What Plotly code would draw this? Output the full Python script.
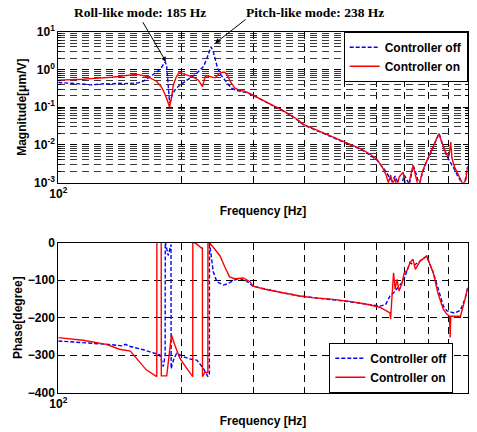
import plotly.graph_objects as go

# ---------------- data ----------------
mag_off_f = [100, 105, 110, 115, 120, 125, 130, 135, 140, 145, 150, 157, 162, 166, 170, 175, 178, 180,
             182.5, 184, 185.5, 187, 188, 190, 193, 196, 200, 205, 210, 216, 222, 226, 230, 233, 236,
             239, 242, 245, 250, 255, 260, 265, 272, 281, 290, 301, 310, 320, 335, 350, 365, 380, 397,
             420, 450, 480, 515, 550, 580, 600, 621, 635, 645, 655, 665, 675, 690, 700, 710, 720, 736,
             745, 755, 764, 775, 790, 808, 825, 840, 851, 860, 872, 887, 900, 915, 930, 945, 960, 974,
             985, 995, 1000]
mag_off = [0.45, 0.44, 0.43, 0.41, 0.39, 0.40, 0.42, 0.41, 0.43, 0.42, 0.43, 0.44, 0.50, 0.60, 0.70, 0.90,
           1.07, 1.3, 1.6, 1.2, 0.4, 0.13, 0.15, 0.22, 0.29, 0.35, 0.41, 0.50, 0.60, 0.72, 0.95, 1.18, 1.8,
           2.8, 4.0, 3.0, 1.7, 1.07, 0.70, 0.52, 0.40, 0.32, 0.28, 0.26, 0.24, 0.20, 0.17, 0.14, 0.11,
           0.085, 0.065, 0.05, 0.034, 0.026, 0.019, 0.014, 0.010, 0.0075, 0.0052, 0.004, 0.0025, 0.0018,
           0.0013, 0.0011, 0.0015, 0.001, 0.0009, 0.0016, 0.0012, 0.0009, 0.0028, 0.0020, 0.0012, 0.001,
           0.0018, 0.0032, 0.0054, 0.009, 0.014, 0.02, 0.014, 0.009, 0.0054, 0.004, 0.003, 0.0022,
           0.0015, 0.0012, 0.0009, 0.0011, 0.0022, 0.0027]

mag_on_f = [100, 105, 110, 115, 120, 125, 130, 135, 140, 145, 150, 154, 158, 162, 165, 170, 174, 178, 181,
            184, 187, 189, 191, 194, 197, 200, 204, 208, 214, 220, 223, 225, 227, 229, 233, 237, 241.5,
            245, 248, 252, 255, 259, 263, 267, 270, 278, 286, 294, 301, 310, 320, 335, 350, 365, 380, 397,
            420, 450, 480, 515, 550, 580, 600, 621, 632, 640, 648, 656, 664, 672, 680, 695, 705, 715, 725,
            736, 745, 755, 764, 775, 790, 808, 825, 840, 851, 862, 875, 890, 900, 909, 915, 930, 945, 960,
            974, 990, 1000]
mag_on = [0.52, 0.53, 0.52, 0.55, 0.57, 0.58, 0.60, 0.62, 0.65, 0.68, 0.72, 0.74, 0.72, 0.68, 0.65, 0.55,
          0.48, 0.36, 0.26, 0.17, 0.10, 0.18, 0.39, 0.62, 0.82, 0.80, 0.75, 0.71, 0.62, 0.52, 0.42, 0.35,
          0.50, 0.68, 0.66, 0.62, 0.60, 0.70, 0.79, 0.84, 0.84, 0.70, 0.48, 0.38, 0.32, 0.28, 0.26, 0.23,
          0.20, 0.17, 0.145, 0.11, 0.087, 0.066, 0.051, 0.035, 0.027, 0.019, 0.0145, 0.0102, 0.0078,
          0.0055, 0.0042, 0.0024, 0.0016, 0.0010, 0.0016, 0.0009, 0.0013, 0.0008, 0.0014, 0.0019, 0.0009,
          0.0008, 0.0015, 0.0029, 0.0016, 0.0009, 0.0010, 0.0020, 0.0033, 0.0055, 0.0095, 0.015, 0.020,
          0.013, 0.008, 0.0055, 0.005, 0.012, 0.0045, 0.0025, 0.0018, 0.0012, 0.0009, 0.0012, 0.0027]

ph_off_f = [100, 110, 120, 126, 135, 143, 146, 149, 155, 162, 167.5, 172, 177, 180.5, 182.4, 182.5, 185.5,
            188.5, 188.6, 191, 194.5, 202, 210, 218, 226, 232, 233.9, 234, 236.5, 239, 244, 253, 260, 268,
            278, 288, 299, 320, 350, 389, 420, 470, 520, 567, 610, 630, 646, 660, 675, 690, 700, 723, 740,
            765, 794, 824, 850, 872, 890, 906, 930, 960, 985, 1000]
ph_off = [-262, -265, -267, -268, -272, -275, -271, -276, -280, -286, -291, -295, -299, -330, -300, 2, -34,
          -5, -336, -314, -295, -304, -310, -313, -335, -357, -350, 2, -42, -77, -104, -113, -109, -100,
          -96, -102, -116, -124, -133, -142, -146, -151, -158, -164, -169, -165, -142, -133, -120, -107,
          -95, -53, -60, -49, -36, -80, -130, -169, -182, -185, -188, -180, -150, -120]

ph_on_f = [100, 115, 131, 141, 150, 155, 158.4, 164, 174, 174.1, 178.4, 178.5, 184, 189, 192, 198, 206,
           213, 213.1, 218, 224, 224.9, 225, 228, 231.9, 232, 236, 241.6, 248, 255, 262, 270, 283, 294,
           299, 320, 350, 389, 420, 470, 520, 567, 610, 646, 648, 652, 659, 665, 672, 680, 690, 700, 710,
           723, 735, 745, 765, 794, 824, 845, 872, 890, 903, 906, 909, 930, 960, 985, 1000]
ph_on = [-253, -260, -271, -284, -289, -307, -317, -339, -357, 2, 2, -355, -355, -246, -269, -308, -335,
         -357, 2, -4, -15, -13, -357, -346, -346, 2, -5, -20, -34, -64, -91, -96, -94, -104, -116, -124,
         -133, -142, -147, -151, -157, -164, -172, -187, -204, -150, -80, -124, -98, -129, -110, -80, -75,
         -53, -44, -71, -49, -36, -80, -133, -178, -191, -196, -253, -196, -196, -196, -151, -120]

x_tick_vals = [100, 1000]
x_tick_text = ["10<sup>2</sup>", "10<sup>3</sup>"]
x_minor_vals = [200, 300, 400, 500, 600, 700, 800, 900]
mag_tick_vals = [1e-3, 1e-2, 1e-1, 1e0, 1e1]
mag_tick_text = ["10<sup>-3</sup>", "10<sup>-2</sup>", "10<sup>-1</sup>", "10<sup>0</sup>", "10<sup>1</sup>"]
mag_minor_vals = [m * 10.0 ** e for e in range(-3, 1) for m in range(2, 10)]
ph_tick_vals = [0, -100, -200, -300, -400]

# ---------------- figure ----------------
BLUE = "#0000FF"
RED = "#FF0000"
W, H = 477, 432
L, R = 58.3, 467.7
TOP1, BOT1 = 31.7, 182.7
TOP2, BOT2 = 242.7, 392.7

fig = go.Figure()
fig.add_trace(go.Scatter(x=mag_off_f, y=mag_off, mode="lines", name="Controller off",
                         line=dict(color=BLUE, width=1.4, dash="4px,2px"), xaxis="x", yaxis="y",
                         legend="legend"))
fig.add_trace(go.Scatter(x=mag_on_f, y=mag_on, mode="lines", name="Controller on",
                         line=dict(color=RED, width=1.4), xaxis="x", yaxis="y", legend="legend"))
fig.add_trace(go.Scatter(x=ph_off_f, y=ph_off, mode="lines", name="Controller off",
                         line=dict(color=BLUE, width=1.4, dash="4px,2px"), xaxis="x2", yaxis="y2",
                         legend="legend2"))
fig.add_trace(go.Scatter(x=ph_on_f, y=ph_on, mode="lines", name="Controller on",
                         line=dict(color=RED, width=1.4), xaxis="x2", yaxis="y2", legend="legend2"))

bold = dict(family="Liberation Sans, Arial, sans-serif", size=12, color="black", weight="bold")
tickfont = dict(family="Liberation Sans, Arial, sans-serif", size=12, color="black", weight="bold")
GRIDDASH = "7px,5px"

def xaxis_common(anchor):
    return dict(type="log", range=[2, 3], domain=[L / W, R / W], anchor=anchor,
                tickvals=x_tick_vals, ticktext=x_tick_text, tickfont=tickfont,
                showline=True, linecolor="black", linewidth=1, mirror="ticks",
                ticks="inside", ticklen=5, tickcolor="black", showgrid=False, zeroline=False,
                minor=dict(tickvals=x_minor_vals, ticks="inside", ticklen=5, tickcolor="black",
                           showgrid=True, gridcolor="black", griddash=GRIDDASH, gridwidth=1),
                title=dict(text="Frequency [Hz]", font=bold, standoff=6), automargin=False)

fig.update_layout(
    width=W, height=H, margin=dict(l=0, r=0, t=0, b=0),
    paper_bgcolor="white", plot_bgcolor="white",
    xaxis=xaxis_common("y"),
    yaxis=dict(type="log", range=[-3, 1], domain=[1 - BOT1 / H, 1 - TOP1 / H], anchor="x",
               tickvals=mag_tick_vals, ticktext=mag_tick_text, tickfont=tickfont,
               showline=True, linecolor="black", linewidth=1, mirror="ticks",
               ticks="inside", ticklen=5, tickcolor="black",
               showgrid=True, gridcolor="black", griddash=GRIDDASH, gridwidth=1, zeroline=False,
               minor=dict(tickvals=mag_minor_vals, ticks="inside", ticklen=3, tickcolor="black",
                          showgrid=True, gridcolor="#3a3a3a", griddash=GRIDDASH, gridwidth=1),
               title=dict(text="Magnitude[μm/V]", font=bold, standoff=4), automargin=False),
    xaxis2=xaxis_common("y2"),
    yaxis2=dict(range=[-400, 0], domain=[1 - BOT2 / H, 1 - TOP2 / H], anchor="x2",
                tickvals=ph_tick_vals, tickfont=tickfont,
                showline=True, linecolor="black", linewidth=1, mirror="ticks",
                ticks="inside", ticklen=5, tickcolor="black",
                showgrid=True, gridcolor="black", griddash=GRIDDASH, gridwidth=1, zeroline=False,
                title=dict(text="Phase[degree]", font=bold, standoff=2), automargin=False),
    legend=dict(x=R / W, xanchor="right", y=1 - TOP1 / H, yanchor="top",
                bgcolor="white", bordercolor="black", borderwidth=1, font=bold,
                tracegroupgap=0, itemwidth=30),
    legend2=dict(x=453.3 / W, xanchor="right", y=1 - 342.7 / H, yanchor="top",
                 bgcolor="white", bordercolor="black", borderwidth=1, font=bold,
                 tracegroupgap=0, itemwidth=30),
    showlegend=True,
)

serif = dict(family="Liberation Serif, Times New Roman, serif", size=13.5, color="black", weight="bold")
fig.add_annotation(text="Roll-like mode: 185 Hz", xref="paper", yref="paper",
                   x=140 / W, y=1 - 12.5 / H, xanchor="center", yanchor="middle",
                   showarrow=False, font=serif)
fig.add_annotation(text="Pitch-like mode: 238 Hz", xref="paper", yref="paper",
                   x=315 / W, y=1 - 12 / H, xanchor="center", yanchor="middle",
                   showarrow=False, font=serif)
fig.add_annotation(text="", xref="x", yref="y", x=2.263, y=0.205, ax=-24, ay=-41,
                   showarrow=True, arrowhead=2, arrowsize=1, arrowwidth=1, arrowcolor="black")
fig.add_annotation(text="", xref="x", yref="y", x=2.383, y=0.693, ax=32, ay=-25,
                   showarrow=True, arrowhead=2, arrowsize=1, arrowwidth=1, arrowcolor="black")

fig.write_html("out.html", config={"displayModeBar": False},
               post_script="document.body.style.margin='0';document.body.style.padding='0';")
